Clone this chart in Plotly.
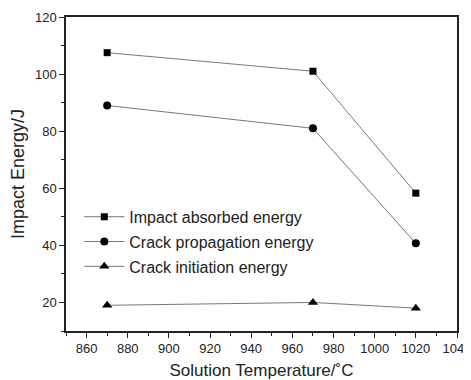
import plotly.graph_objects as go

temps = [870, 970, 1020]
impact_absorbed = [107.5, 101, 58.3]
crack_propagation = [89, 81, 40.7]
crack_initiation = [19, 20, 18]

series = [
    ("Impact absorbed energy", impact_absorbed, "square", 7),
    ("Crack propagation energy", crack_propagation, "circle", 8),
    ("Crack initiation energy", crack_initiation, "triangle-up", 9),
]

fig = go.Figure()
for i, (name, vals, sym, sz) in enumerate(series):
    fig.add_trace(go.Scatter(
        x=temps, y=vals, name=name, mode="lines+markers",
        legendgroup=f"g{i}",
        line=dict(color="#777777", width=1),
        marker=dict(symbol=sym, size=sz, color="black"),
    ))

font = "Liberation Sans, Arial, sans-serif"
# page body has an 8px margin, so the figure is sized to fit inside the window
fig.update_layout(
    width=463, height=372,
    margin=dict(l=58, r=14, t=9, b=49, autoexpand=False),
    paper_bgcolor="white", plot_bgcolor="white",
    font=dict(family=font, color="#222", size=13),
    showlegend=True,
    legend=dict(x=0.034, y=0.284, xanchor="left", yanchor="middle",
                font=dict(size=16, color="#222"), bgcolor="rgba(0,0,0,0)",
                tracegroupgap=1, itemwidth=40),
    xaxis=dict(range=[850, 1040], tickmode="array",
               tickvals=list(range(860, 1041, 20)),
               ticklabeloverflow="allow",
               ticks="outside", ticklen=5, tickwidth=1, tickcolor="#222",
               showline=True, linecolor="#222", linewidth=1.5, mirror=True,
               showgrid=False, zeroline=False, automargin=False,
               minor=dict(tickvals=list(range(850, 1041, 10)), ticks="outside", ticklen=3, tickcolor="#222"),
               title=dict(text="Solution Temperature/\u02daC", font=dict(size=17), standoff=9)),
    yaxis=dict(range=[10, 120], tickmode="array",
               tickvals=[20, 40, 60, 80, 100, 120],
               ticks="outside", ticklen=5, tickwidth=1, tickcolor="#222",
               showline=True, linecolor="#222", linewidth=1.5, mirror=True,
               showgrid=False, zeroline=False, automargin=False,
               minor=dict(tickvals=list(range(10, 121, 10)), ticks="outside", ticklen=3, tickcolor="#222"),
               title=dict(text="Impact Energy/J", font=dict(size=18), standoff=8)),
)
fig.write_html("out.html")
